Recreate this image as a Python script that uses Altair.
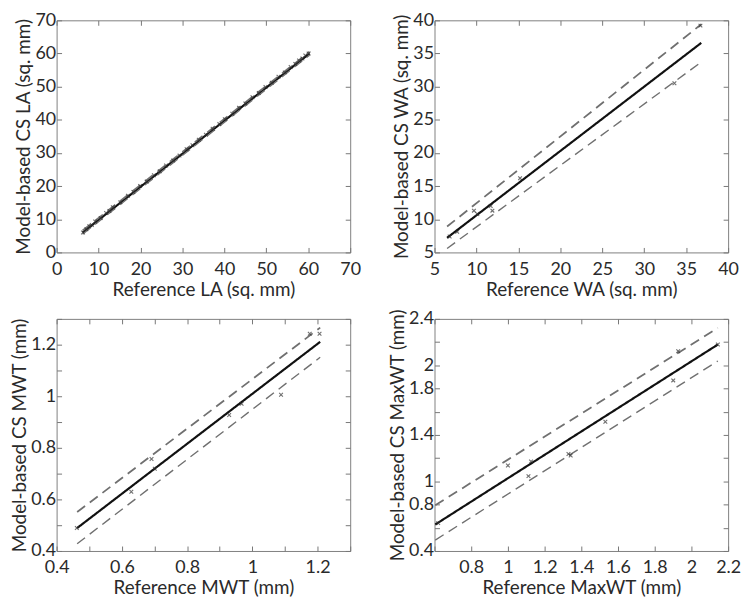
import altair as alt
import pandas as pd

# ---------------- Panel 1: LA ----------------
LA_ref = [6.3, 7.1, 7.8, 8.4, 9.2, 10.5, 11.8, 12.6, 13.4, 15.2, 17.0, 18.3, 19.9, 21.5,
          23.2, 24.6, 26.1, 27.8, 29.3, 31.0, 32.4, 33.9, 35.6, 37.2, 38.8, 40.1, 41.9,
          43.5, 45.0, 46.7, 48.2, 49.8, 51.3, 52.9, 54.4, 55.8, 56.9, 57.8, 58.6, 59.3, 60.1]
LA_model = [6.0, 7.0, 7.9, 8.3, 9.3, 10.4, 11.9, 12.5, 13.6, 15.1, 17.1, 18.2, 20.0, 21.4,
            23.3, 24.5, 26.2, 27.7, 29.2, 31.1, 32.3, 34.0, 35.5, 37.3, 38.7, 40.2, 41.8,
            43.6, 44.9, 46.8, 48.1, 49.9, 51.2, 53.0, 54.3, 55.9, 56.8, 57.9, 58.5, 59.4, 60.0]
LA_fit_x = [6.2, 60.3]
LA_fit_y = [6.0, 60.0]
LA_upper_y = [6.6, 60.5]
LA_lower_y = [5.5, 59.5]
LA_xticks = [0, 10, 20, 30, 40, 50, 60, 70]
LA_xlabeled = [0, 10, 20, 30, 40, 50, 60, 70]
LA_yticks = [0, 10, 20, 30, 40, 50, 60, 70]
LA_ylabeled = [0, 10, 20, 30, 40, 50, 60, 70]

# ---------------- Panel 2: WA ----------------
WA_ref = [6.8, 7.7, 9.7, 10.1, 11.7, 11.9, 15.2, 33.6, 36.7]
WA_model = [7.4, 8.1, 11.3, 10.8, 12.0, 11.3, 16.2, 30.5, 39.2]
WA_fit_x = [6.5, 36.8]
WA_fit_y = [7.2, 36.6]
WA_upper_y = [8.9, 39.4]
WA_lower_y = [5.6, 33.7]
WA_xticks = [5, 10, 15, 20, 25, 30, 35, 40]
WA_xlabeled = [5, 10, 15, 20, 25, 30, 35, 40]
WA_yticks = [5, 10, 15, 20, 25, 30, 35, 40]
WA_ylabeled = [5, 10, 15, 20, 25, 30, 35, 40]

# ---------------- Panel 3: MWT ----------------
MWT_ref = [0.462, 0.629, 0.691, 0.701, 0.929, 0.967, 1.088, 1.176, 1.206]
MWT_model = [0.489, 0.630, 0.757, 0.719, 0.927, 0.971, 1.006, 1.242, 1.242]
MWT_fit_x = [0.463, 1.208]
MWT_fit_y = [0.489, 1.211]
MWT_upper_y = [0.551, 1.266]
MWT_lower_y = [0.428, 1.151]
MWT_xticks = [0.4, 0.5, 0.6, 0.7, 0.8, 0.9, 1.0, 1.1, 1.2, 1.3]
MWT_xlabeled = [0.4, 0.6, 0.8, 1.0, 1.2]
MWT_yticks = [0.4, 0.5, 0.6, 0.7, 0.8, 0.9, 1.0, 1.1, 1.2, 1.3]
MWT_ylabeled = [0.4, 0.6, 0.8, 1.0, 1.2]

# ---------------- Panel 4: MaxWT ----------------
MAX_ref = [0.62, 1.0, 1.112, 1.126, 1.33, 1.342, 1.531, 1.901, 1.928, 2.144]
MAX_model = [0.64, 1.137, 1.045, 1.171, 1.236, 1.223, 1.514, 1.870, 2.122, 2.179]
MAX_fit_x = [0.604, 2.144]
MAX_fit_y = [0.628, 2.179]
MAX_upper_y = [0.794, 2.322]
MAX_lower_y = [0.494, 2.037]
MAX_xticks = [0.6, 0.8, 1.0, 1.2, 1.4, 1.6, 1.8, 2.0, 2.2]
MAX_xlabeled = [0.8, 1.0, 1.2, 1.4, 1.6, 1.8, 2.0, 2.2]
MAX_yticks = [0.4, 0.6, 0.8, 1.0, 1.2, 1.4, 1.6, 1.8, 2.0, 2.2, 2.4]
MAX_ylabeled = [0.4, 0.8, 1.0, 1.4, 1.8, 2.0, 2.4]

SERIES = ["fit", "upper", "lower"]
W, H = 296, 234
TICK = 5
XMARK = "M-1,-1L1,1M-1,1L1,-1"


def label_expr(labeled):
    arr = ",".join(repr(float(v)) for v in labeled)
    return "indexof([" + arr + "], datum.value) >= 0 ? format(datum.value, '~g') : ''"


def panel(ref, model, fx, fy, fu, fl, xdom, ydom, xt, xl, yt, yl, xtitle, ytitle):
    pts = pd.DataFrame({"x": ref, "y": model})
    rows = []
    for s, ys in zip(SERIES, [fy, fu, fl]):
        for xv, yv in zip(fx, ys):
            rows.append({"series": s, "x": xv, "y": yv})
    lines = pd.DataFrame(rows)
    xs = alt.Scale(domain=xdom, nice=False, zero=False)
    ysc = alt.Scale(domain=ydom, nice=False, zero=False)
    xt = [float(v) for v in xt]
    yt = [float(v) for v in yt]
    line_layer = alt.Chart(lines).mark_line(clip=True).encode(
        x=alt.X("x:Q", scale=xs, axis=alt.Axis(
            orient="bottom", values=xt, labelExpr=label_expr(xl),
            title=xtitle, offset=-TICK, tickSize=TICK, labelPadding=8, titlePadding=2)),
        y=alt.Y("y:Q", scale=ysc, axis=alt.Axis(
            orient="left", values=yt, labelExpr=label_expr(yl),
            title=ytitle, offset=-TICK, tickSize=TICK, labelPadding=1, titlePadding=1)),
        detail="series:N",
        color=alt.Color("series:N", scale=alt.Scale(domain=SERIES, range=["#111111", "#707070", "#707070"]), legend=None),
        strokeDash=alt.StrokeDash("series:N", scale=alt.Scale(domain=SERIES, range=[[1, 0], [10, 6], [10, 6]]), legend=None),
        strokeWidth=alt.StrokeWidth("series:N", scale=alt.Scale(domain=SERIES, range=[2.2, 1.4, 1.4]), legend=None),
    )
    pt_layer = alt.Chart(pts).mark_point(shape=XMARK, size=14, filled=False,
                                         color="#333333", strokeWidth=1.1, clip=True).encode(
        x=alt.X("x:Q", scale=xs, axis=alt.Axis(
            orient="top", values=xt, labels=False, title=None, offset=-TICK, tickSize=TICK,
            minExtent=0, maxExtent=0)),
        y=alt.Y("y:Q", scale=ysc, axis=alt.Axis(
            orient="right", values=yt, labels=False, title=None, offset=-TICK, tickSize=TICK,
            minExtent=0, maxExtent=0)),
    )
    return alt.layer(line_layer, pt_layer).resolve_axis(x="independent", y="independent").properties(width=W, height=H)


p1 = panel(LA_ref, LA_model, LA_fit_x, LA_fit_y, LA_upper_y, LA_lower_y, [0, 70], [0, 70],
           LA_xticks, LA_xlabeled, LA_yticks, LA_ylabeled, "Reference LA (sq. mm)", "Model-based CS LA (sq. mm)")
p2 = panel(WA_ref, WA_model, WA_fit_x, WA_fit_y, WA_upper_y, WA_lower_y, [5, 40], [5, 40],
           WA_xticks, WA_xlabeled, WA_yticks, WA_ylabeled, "Reference WA (sq. mm)", "Model-based CS WA (sq. mm)")
p3 = panel(MWT_ref, MWT_model, MWT_fit_x, MWT_fit_y, MWT_upper_y, MWT_lower_y, [0.4, 1.3], [0.4, 1.3],
           MWT_xticks, MWT_xlabeled, MWT_yticks, MWT_ylabeled, "Reference MWT (mm)", "Model-based CS MWT (mm)")
p4 = panel(MAX_ref, MAX_model, MAX_fit_x, MAX_fit_y, MAX_upper_y, MAX_lower_y, [0.6, 2.2], [0.4, 2.4],
           MAX_xticks, MAX_xlabeled, MAX_yticks, MAX_ylabeled, "Reference MaxWT (mm)", "Model-based CS MaxWT (mm)")

chart = alt.concat(p1, p2, p3, p4, columns=2,
                   spacing=alt.RowColnumber(row=67, column=85),
                   bounds="flush").properties(
    padding={"left": 2, "top": 0, "right": 0, "bottom": 0}
).configure_view(
    stroke="#808080", strokeWidth=1
).configure_axis(
    labelFont="Lato", titleFont="Lato", labelFontSize=18, titleFontSize=19,
    labelColor="#2a2a2a", titleColor="#2a2a2a", titleFontWeight="normal",
    tickColor="#777777", tickWidth=1, domain=False, grid=False,
    labelFlush=False, labelOverlap=False
)

chart.save("out.html", embed_options={"renderer": "svg", "actions": False})
